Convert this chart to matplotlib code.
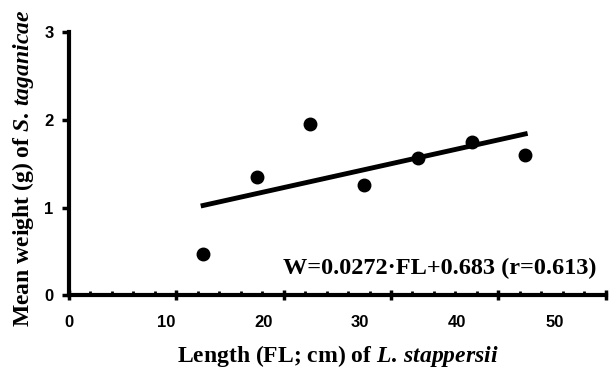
import numpy as np
import matplotlib.pyplot as plt
import matplotlib.transforms as mtransforms
from matplotlib.ticker import MultipleLocator

plt.rcParams["font.family"] = "Liberation Sans"
plt.rcParams["font.weight"] = "bold"
plt.rcParams["mathtext.fontset"] = "custom"
plt.rcParams["mathtext.rm"] = "Liberation Serif:bold"
plt.rcParams["mathtext.it"] = "Liberation Serif:italic:bold"

# length classes (FL, cm) and mean weight (g)
length = [12.5, 17.5, 22.5, 27.5, 32.5, 37.5, 42.5]
weight = [0.47, 1.35, 1.95, 1.26, 1.57, 1.75, 1.60]

# regression W = a*FL + b
slope = 0.0272
intercept = 0.683
r_value = 0.613

fig = plt.figure(figsize=(6.15, 3.69), dpi=100)
ax = fig.add_axes([0.112, 0.2, 0.873, 0.713])

ax.plot(length, weight, "o", color="black", markersize=9, zorder=3)

xs = np.array([min(length), max(length)])
ax.plot(xs, slope * xs + intercept, "-", color="black", linewidth=3.5)

ax.text(0.983, 0.103,
        "W=%.4f\u00b7FL+%.3f (r=%.3f)" % (slope, intercept, r_value),
        transform=ax.transAxes, ha="right", va="center",
        fontsize=17.5, fontweight="bold", family="Liberation Serif")

ax.set_xlim(0, 50)
ax.set_ylim(0, 3)
ax.xaxis.set_major_locator(MultipleLocator(10))
ax.xaxis.set_minor_locator(MultipleLocator(2))
ax.yaxis.set_major_locator(MultipleLocator(1))

for side in ["top", "right"]:
    ax.spines[side].set_visible(False)
for side in ["left", "bottom"]:
    ax.spines[side].set_linewidth(3)

ax.tick_params(axis="x", which="major", direction="inout", length=7, width=2.5,
               pad=11, labelsize=12)
ax.tick_params(axis="x", which="minor", direction="in", length=3, width=2)
ax.tick_params(axis="y", which="major", direction="out", length=5, width=2.5,
               pad=6, labelsize=12)

# x tick labels in the original drift left of their ticks
fig.canvas.draw()
for tick in ax.xaxis.get_major_ticks():
    shift = -tick.get_loc() * 0.74 / 72
    off = mtransforms.ScaledTranslation(shift, 0, fig.dpi_scale_trans)
    tick.label1.set_transform(tick.label1.get_transform() + off)

ax.set_xlabel(r"Length (FL; cm) of $\mathit{L.\,stappersii}$", fontsize=17,
              fontweight="bold", family="Liberation Serif", labelpad=9)
ax.set_ylabel(r"Mean weight (g) of $\mathit{S.\,taganicae}$", fontsize=17,
              fontweight="bold", family="Liberation Serif")
ax.yaxis.set_label_coords(-0.062, 0.483)

fig.savefig("out.png", dpi=100)
